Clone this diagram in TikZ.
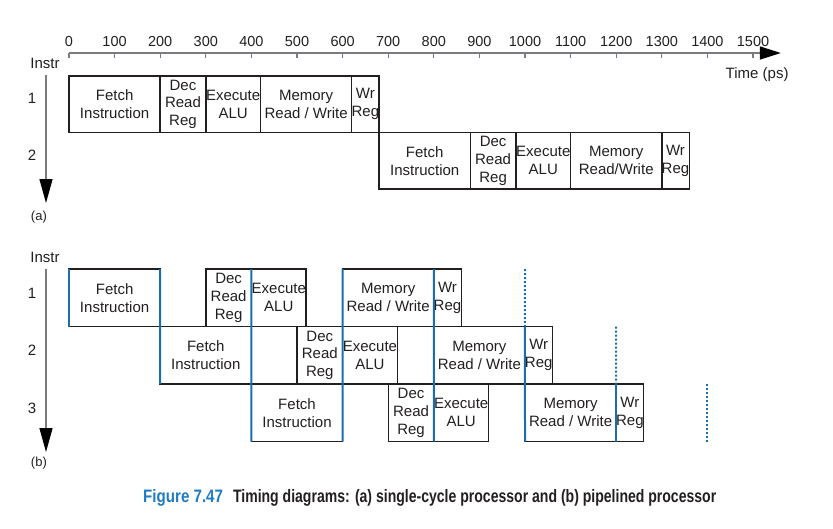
\documentclass[tikz,border=0pt]{standalone}
\usepackage{fontspec}
\setmainfont{Liberation Sans}
\newfontfamily\capfont[FakeStretch=0.78]{Liberation Sans}
\newfontfamily\capnumfont[FakeStretch=0.84]{Liberation Sans}
\usetikzlibrary{arrows.meta}
\definecolor{ink}{HTML}{231F20}
\definecolor{cycblue}{HTML}{1B6DAE}
\definecolor{capblue}{HTML}{1F7BC4}
\definecolor{axisgray}{HTML}{7A7B7E}
\tikzset{
  stagebox/.style={draw=ink,line width=1.4pt,inner sep=0pt,outer sep=0pt,
              align=center,text=ink,font=\fontsize{15}{17.8}\selectfont},
  fetchbox/.style={stagebox,minimum width=91.2pt},
  decbox/.style={stagebox,minimum width=45.6pt},
  exbox/.style={stagebox,minimum width=54.72pt},
  membox/.style={stagebox,minimum width=91.2pt},
  wrbox/.style={stagebox,minimum width=27.36pt},
  rowa/.style={minimum height=56.5pt},
  rowb/.style={minimum height=57.5pt},
  lbl/.style={text=ink,inner sep=0pt,font=\fontsize{15}{17.8}\selectfont},
  ticklbl/.style={text=ink,inner sep=0pt,font=\fontsize{14.5}{17}\selectfont},
  cyc/.style={draw=cycblue,line width=2pt},
  cycdot/.style={draw=cycblue,line width=2pt,dash pattern=on 2pt off 2pt},
  timeaxis/.style={draw=axisgray,line width=1.5pt,
              -{Triangle[length=21pt,width=13pt,color=black]}},
  instraxis/.style={draw=axisgray,line width=1.3pt,
              -{Triangle[length=24pt,width=13pt,color=black]}},
}

\begin{document}
\begin{tikzpicture}[x=0.456pt,y=-1pt]
  \useasboundingbox (-151.3,0) rectangle (1675.4,528);

  % time axis
  \draw[timeaxis] (0,53) -- (1561,53);
  \foreach \t in {0,100,...,1500}{
    \draw[axisgray,line width=1.3pt] (\t,53) -- (\t,58);
    \node[ticklbl] (tk\t) at (\t,42) {\t};
  }
  \node[lbl] (tunit) at (1509,75) {Time (ps)};

  % (a) single-cycle
  \node[lbl] (ainstr) at (-52.6,63) {Instr};
  \node[lbl] (ar1) at (-81,98) {1};
  \node[lbl] (ar2) at (-81,155) {2};
  \coordinate (atop) at (-50.4,75);
  \coordinate (abot) at (-50.4,203);
  \draw[instraxis] (atop) -- (abot);
  \node[lbl,font=\fontsize{13}{15}\selectfont] (alab) at (-66,217) {(a)};

  \node[fetchbox,rowa] (a1f) at (100,104.25) {Fetch\\Instruction};
  \node[decbox,rowa] (a1d) at (250,104.25) {Dec\\Read\\Reg};
  \node[exbox,rowa] (a1e) at (360,104.25) {Execute\\ALU};
  \node[membox,rowa] (a1m) at (520,104.25) {Memory\\Read / Write};
  \node[wrbox,rowa] (a1w) at (650,104.25) {Wr\\Reg};

  \node[fetchbox,rowa] (a2f) at (780,160.75) {Fetch\\Instruction};
  \node[decbox,rowa] (a2d) at (930,160.75) {Dec\\Read\\Reg};
  \node[exbox,rowa] (a2e) at (1040,160.75) {Execute\\ALU};
  \node[membox,rowa] (a2m) at (1200,160.75) {Memory\\Read/Write};
  \node[wrbox,rowa] (a2w) at (1330,160.75) {Wr\\Reg};

  % (b) pipelined
  \node[lbl] (binstr) at (-52.6,257) {Instr};
  \node[lbl] (br1) at (-81,293) {1};
  \node[lbl] (br2) at (-81,350) {2};
  \node[lbl] (br3) at (-81,408) {3};
  \coordinate (btop) at (-50.4,269);
  \coordinate (bbot) at (-50.4,452);
  \draw[instraxis] (btop) -- (bbot);
  \node[lbl,font=\fontsize{13}{15}\selectfont] (blab) at (-66,463) {(b)};

  \node[fetchbox,rowb] (b1f) at (100,297.75) {Fetch\\Instruction};
  \node[decbox,rowb] (b1d) at (350,297.75) {Dec\\Read\\Reg};
  \node[exbox,rowb] (b1e) at (460,297.75) {Execute\\ALU};
  \node[membox,rowb] (b1m) at (700,297.75) {Memory\\Read / Write};
  \node[wrbox,rowb] (b1w) at (830,297.75) {Wr\\Reg};

  \node[fetchbox,rowb] (b2f) at (300,355.25) {Fetch\\Instruction};
  \node[decbox,rowb] (b2d) at (550,355.25) {Dec\\Read\\Reg};
  \node[exbox,rowb] (b2e) at (660,355.25) {Execute\\ALU};
  \node[membox,rowb] (b2m) at (900,355.25) {Memory\\Read / Write};
  \node[wrbox,rowb] (b2w) at (1030,355.25) {Wr\\Reg};

  \node[fetchbox,rowb] (b3f) at (500,412.75) {Fetch\\Instruction};
  \node[decbox,rowb] (b3d) at (750,412.75) {Dec\\Read\\Reg};
  \node[exbox,rowb] (b3e) at (860,412.75) {Execute\\ALU};
  \node[membox,rowb] (b3m) at (1100,412.75) {Memory\\Read / Write};
  \node[wrbox,rowb] (b3w) at (1230,412.75) {Wr\\Reg};

  % clock edges
  \draw[cyc] (b1f.north west) -- (b1f.south west);
  \draw[cyc] (b1f.north east) -- (b2f.south west);
  \draw[cyc] (b1e.north west) -- (b3f.south west);
  \draw[cyc] (b1m.north west) -- (b3f.south east);
  \draw[cyc] (b1m.north east) -- (b3e.south west);
  \coordinate (c10) at (1000,269);
  \draw[cycdot] (c10) -- (b2w.north west);
  \draw[cyc] (b2w.north west) -- (b3m.south west);
  \coordinate (c12) at (1200,326.5);
  \draw[cycdot] (c12) -- (b3w.north west);
  \draw[cyc] (b3w.north west) -- (b3w.south west);
  \coordinate (c14t) at (1400,384);
  \coordinate (c14b) at (1400,441.5);
  \draw[cycdot] (c14t) -- (c14b);

  % caption
  \node[anchor=west,inner sep=0pt,font=\bfseries\fontsize{18}{20}\selectfont]
    (cap) at (162.3,498) {\textcolor{capblue}{\capnumfont Figure 7.47}\hspace{10pt}\textcolor{ink}{\capfont Timing diagrams: (a) single-cycle processor and (b) pipelined processor}};
\end{tikzpicture}
\end{document}
